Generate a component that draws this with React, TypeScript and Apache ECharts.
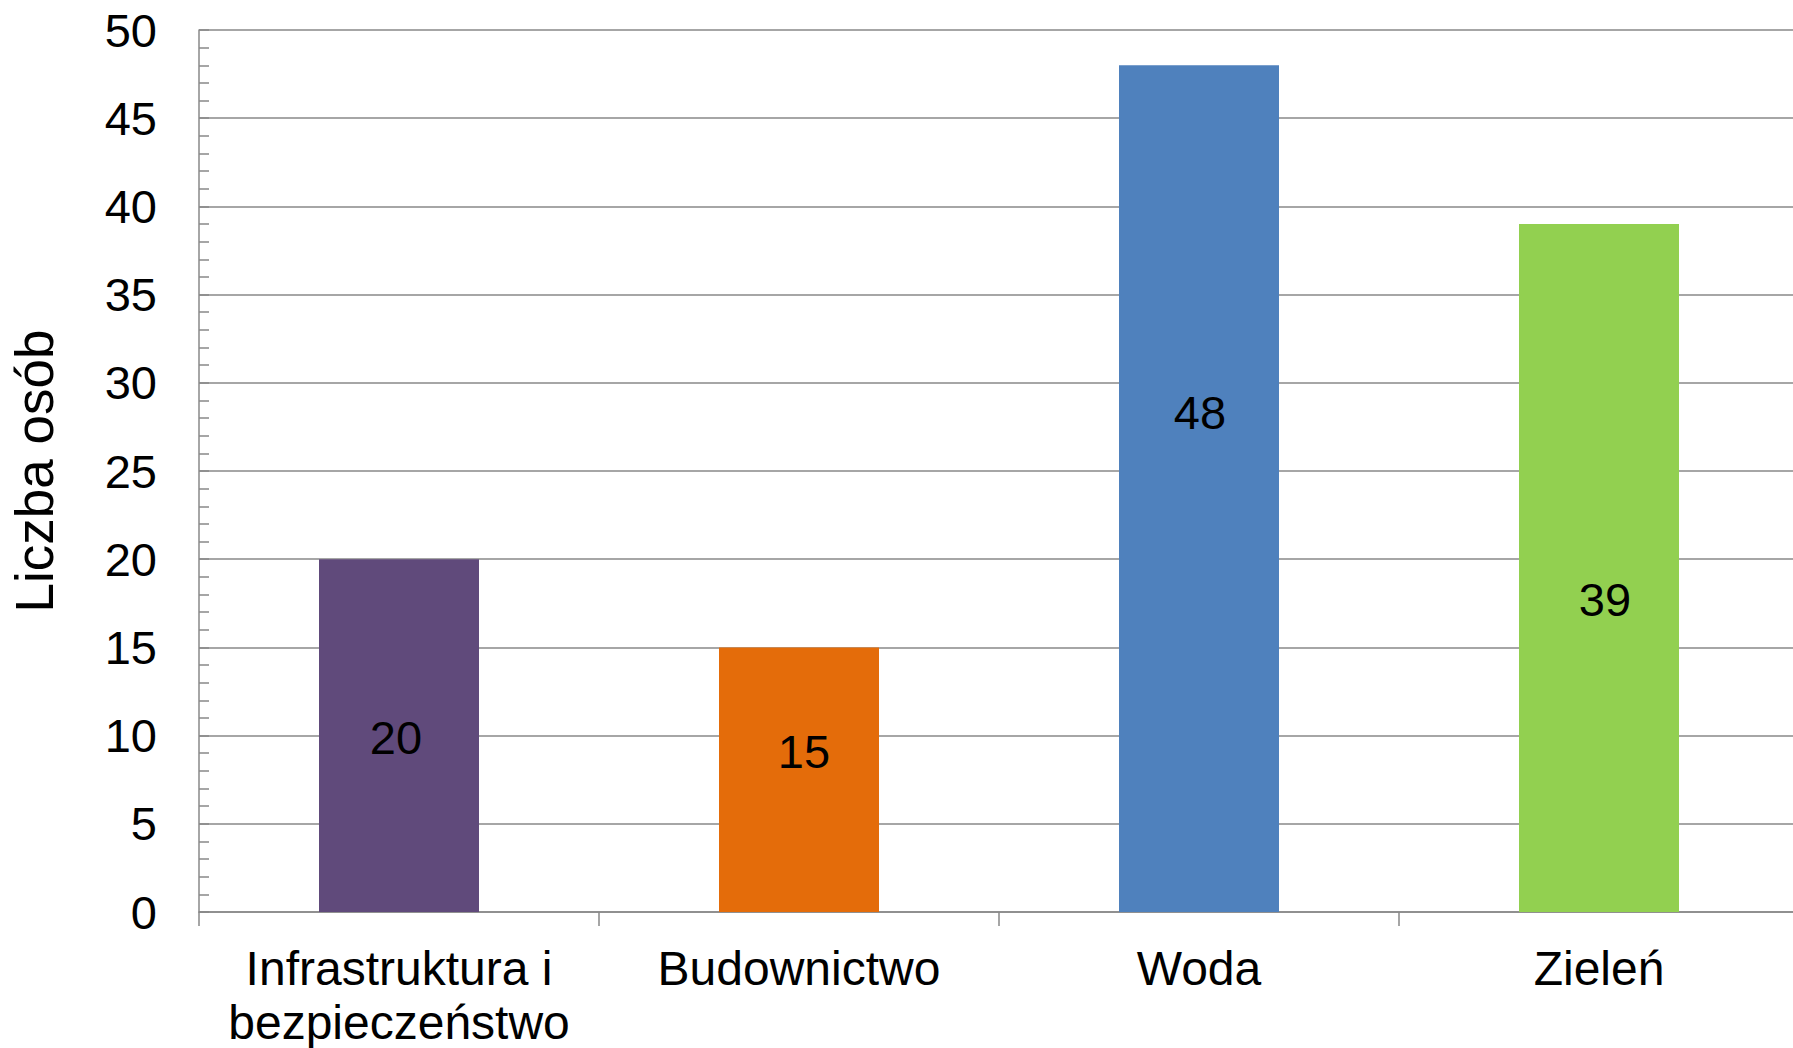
import React, { useEffect, useRef } from "react";
import * as echarts from "echarts";

const categories = ["Infrastruktura i\nbezpieczeństwo", "Budownictwo", "Woda", "Zieleń"];
const values = [20, 15, 48, 39];
const barColors = ["#604A7B", "#E46C0A", "#4F81BD", "#92D050"];
const labelOffsets = [[-3, 2], [5, -28], [1, -76], [6, 31]];
const yAxisTitle = "Liczba osób";

export default function App() {
  const ref = useRef<HTMLDivElement>(null);
  useEffect(() => {
    if (!ref.current) return;
    const chart = echarts.init(ref.current, undefined, { renderer: "svg" });
    const font = "Liberation Sans, Arial, sans-serif";
    chart.setOption({
      animation: false,
      backgroundColor: "#ffffff",
      grid: { left: 199, right: -6, top: 30, bottom: 136, containLabel: false, outerBoundsMode: "none" },
      xAxis: {
        type: "category",
        data: categories,
        axisLine: { show: true, lineStyle: { color: "#898989", width: 1.5 } },
        axisTick: { show: true, length: 14, alignWithLabel: false, lineStyle: { color: "#898989", width: 1.5 } },
        axisLabel: { color: "#000", fontSize: 48, fontFamily: font, lineHeight: 54, margin: 29, interval: 0 },
        splitLine: { show: false },
      },
      yAxis: {
        type: "value",
        min: 0,
        max: 50,
        interval: 5,
        name: yAxisTitle,
        nameLocation: "middle",
        nameGap: 138,
        nameTextStyle: { color: "#000", fontSize: 53, fontFamily: font },
        axisLine: { show: true, lineStyle: { color: "#898989", width: 1.5 } },
        axisTick: { show: true, inside: true, length: 10, lineStyle: { color: "#898989", width: 1.5 } },
        minorTick: { show: true, splitNumber: 5, length: 10, lineStyle: { color: "#898989", width: 1.5 } },
        axisLabel: { color: "#000", fontSize: 47, fontFamily: font, margin: 42 },
        splitLine: { show: true, lineStyle: { color: "#898989", width: 1.5 } },
      },
      series: [
        {
          type: "bar",
          barWidth: "40%",
          data: values.map((v, i) => ({
            value: v,
            itemStyle: { color: barColors[i] },
            label: { offset: labelOffsets[i] },
          })),
          label: {
            show: true,
            position: "inside",
            color: "#000",
            fontSize: 47,
            fontFamily: font,
          },
        },
      ],
    });
    return () => chart.dispose();
  }, []);
  return (
    <div
      ref={ref}
      style={{ position: "fixed", left: 0, top: 0, width: 1793, height: 1048, background: "#fff" }}
    />
  );
}
